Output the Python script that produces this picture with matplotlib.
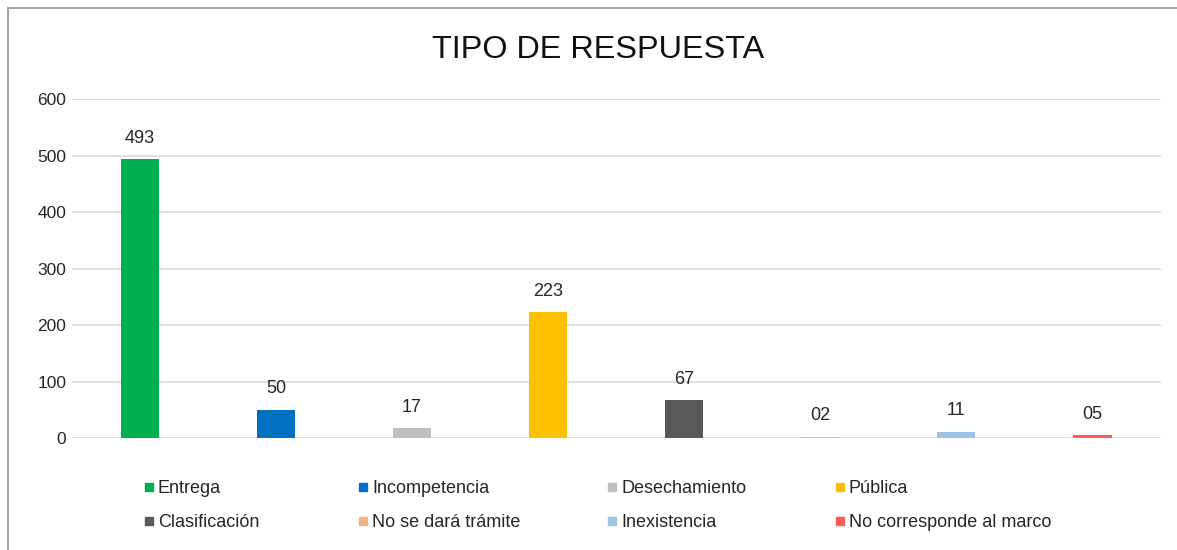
import matplotlib.pyplot as plt
from matplotlib.lines import Line2D
from matplotlib.patches import Rectangle

plt.rcParams['font.family'] = ['Liberation Sans', 'DejaVu Sans']

categories = ['Entrega', 'Incompetencia', 'Desechamiento', 'Pública',
              'Clasificación', 'No se dará trámite', 'Inexistencia',
              'No corresponde al marco']
values = [493, 50, 17, 223, 67, 2, 11, 5]
value_labels = ['493', '50', '17', '223', '67', '02', '11', '05']
colors = ['#00b050', '#0070c0', '#bfbfbf', '#ffc000',
          '#595959', '#f4b183', '#9dc3e6', '#ff5b5b']
yticks = [0, 100, 200, 300, 400, 500, 600]

fig = plt.figure(figsize=(11.77, 5.5), dpi=100)
ax = fig.add_axes([0.061, 0.2036, 0.925, 0.6164])

for i, (v, c, lab) in enumerate(zip(values, colors, value_labels)):
    ax.bar(i, v, width=0.28, color=c, zorder=3)
    ax.text(i, v + 22, lab, ha='center', va='bottom', fontsize=13,
            color='#262626')

ax.set_xlim(-0.5, 7.5)
ax.set_ylim(0, 600)
ax.set_yticks(yticks)
ax.set_xticks([])
ax.tick_params(axis='y', length=0, labelsize=12.5, labelcolor='#262626', pad=4)
ax.grid(axis='y', color='#d9d9d9', linewidth=1.2, zorder=0)
ax.set_axisbelow(True)
for s in ax.spines.values():
    s.set_visible(False)

fig.text(0.508, 0.91, 'TIPO DE RESPUESTA', ha='center', va='center',
         fontsize=23.3, color='#111111')

# legend: 4 columns, 2 rows, row-wise order
col_x = [0.1225, 0.3045, 0.5165, 0.7095]
for col in range(4):
    idx = [col, col + 4]
    handles = [Line2D([], [], marker='s', linestyle='none', markersize=6,
                      color=colors[k]) for k in idx]
    fig.legend(handles, [categories[k] for k in idx], loc='upper left',
               bbox_to_anchor=(col_x[col], 0.127), frameon=False,
               fontsize=13, handlelength=0.5, handletextpad=0.25,
               labelspacing=0.95, borderaxespad=0, borderpad=0,
               labelcolor='#262626')

fig.patches.append(Rectangle((8 / 1177, -0.1), 1.2, 1.1 - 8 / 550,
                             transform=fig.transFigure, fill=False,
                             edgecolor='#a6a6a6', linewidth=1.5))

fig.savefig('out.png', dpi=100, facecolor='white')
